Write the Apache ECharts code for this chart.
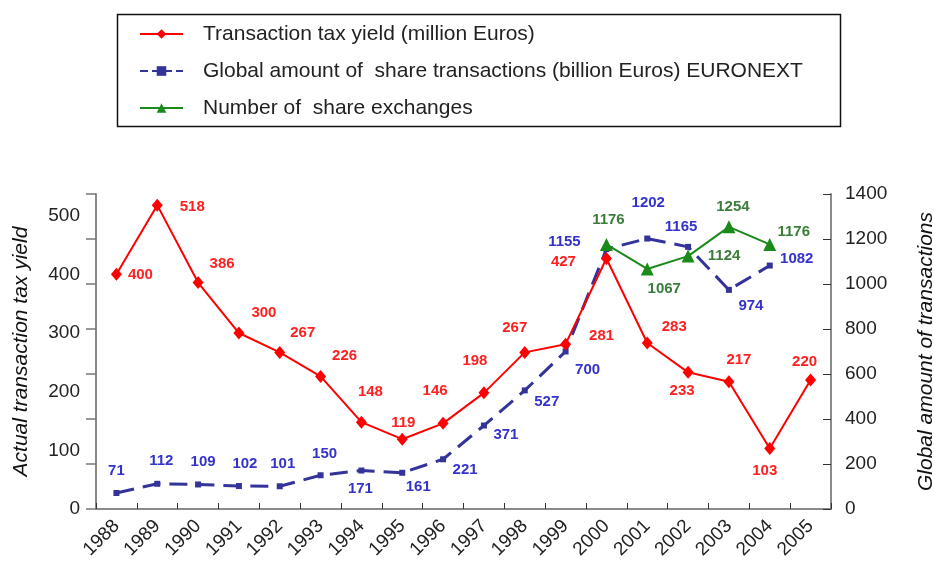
<!DOCTYPE html>
<html>
<head>
<meta charset="utf-8">
<script src="https://cdn.jsdelivr.net/npm/echarts@6/dist/echarts.min.js"></script>
<style>
  html, body { margin: 0; padding: 0; background: #ffffff; }
  #chart { width: 934px; height: 567px; }
</style>
</head>
<body>
<div id="chart"></div>
<script>
// ---- data ----
const years = ['1988','1989','1990','1991','1992','1993','1994','1995','1996','1997','1998','1999','2000','2001','2002','2003','2004','2005'];
const taxYield = [400, 518, 386, 300, 267, 226, 148, 119, 146, 198, 267, 281, 427, 283, 233, 217, 103, 220];
const globalAmount = [71, 112, 109, 102, 101, 150, 171, 161, 221, 371, 527, 700, 1155, 1202, 1165, 974, 1082, null];
const shareExchanges = [null, null, null, null, null, null, null, null, null, null, null, null, 1176, 1067, 1124, 1254, 1176, null];
const leftTicks = [0, 100, 200, 300, 400, 500];
const rightTicks = [0, 200, 400, 600, 800, 1000, 1200, 1400];

const seriesNames = [
  'Transaction tax yield (million Euros)',
  'Global amount of  share transactions (billion Euros) EURONEXT',
  'Number of  share exchanges'
];

// ---- label offsets (style) ----
const redOffsets = [[24,0],[35,2],[24,-19],[25,-20],[23,-20],[24,-21],[9,-30],[1,-16],[-8,-32],[-9,-32],[-10,-25],[36,-8],[-43,3],[27,-16],[-6,19],[10,-22],[-5,22],[-6,-18]];
const blueOffsets = [[0,-22],[4,-23],[5,-23],[6,-22],[3,-22],[4,-21],[-1,18],[16,14],[22,11],[22,9],[22,11],[22,18],[-42,-7],[1,-36],[-7,-20],[22,16],[27,-7],[0,0]];
const greenOffsets = {12:[2,-25],13:[17,20],14:[36,0],15:[4,-20],16:[24,-13]};

function withOffsets(vals, offs) {
  return vals.map((v, i) => {
    if (v == null) return null;
    return { value: v, label: { offset: offs[i] || [0, 0] } };
  });
}

const FONT = "'Liberation Sans', Arial, sans-serif";
const chart = echarts.init(document.getElementById('chart'), null, { renderer: 'canvas' });

const labelBase = { show: true, position: 'inside', fontFamily: FONT, fontSize: 15, fontWeight: 'bold', align: 'center', verticalAlign: 'middle' };

chart.setOption({
  animation: false,
  backgroundColor: '#ffffff',
  graphic: [{
    type: 'rect', left: 115, top: 12, silent: true,
    shape: { width: 723, height: 112 },
    style: { fill: 'none', stroke: '#111', lineWidth: 1.5 }
  }],
  legend: {
    data: [
      { name: seriesNames[0] },
      { name: seriesNames[1], lineStyle: { type: 'dashed' } },
      { name: seriesNames[2] }
    ],
    orient: 'vertical',
    left: 139, top: 23,
    padding: 0,
    itemWidth: 43, itemHeight: 12,
    itemGap: 15,
    textStyle: { fontFamily: FONT, fontSize: 21, color: '#222', padding: [0, 0, 0, 15], lineHeight: 22 }
  },
  grid: { left: 96, right: 103, top: 194, bottom: 58, outerBoundsMode: 'none', containLabel: false },
  xAxis: {
    type: 'category',
    data: years,
    boundaryGap: true,
    axisLine: { lineStyle: { color: '#8a8a8a', width: 2 } },
    axisTick: { show: true, inside: true, length: 6, lineStyle: { color: '#333' } },
    axisLabel: { rotate: 45, fontFamily: FONT, fontSize: 19, color: '#222', margin: 14 },
    splitLine: { show: false }
  },
  yAxis: [
    {
      type: 'value', position: 'left', min: 0, max: 537, interval: 100,
      name: 'Actual transaction tax yield', nameLocation: 'middle', nameGap: 64, nameRotate: 90,
      nameTextStyle: { fontFamily: FONT, fontSize: 21, fontStyle: 'italic', color: '#111' },
      axisLine: { show: true, lineStyle: { color: '#8a8a8a', width: 2 } },
      axisTick: { show: false },
      axisLabel: { fontFamily: FONT, fontSize: 19, color: '#222', margin: 16, showMaxLabel: false,
        formatter: v => leftTicks.indexOf(v) >= 0 ? String(v) : '' },
      splitLine: { show: false }
    },
    {
      type: 'value', position: 'right', min: 0, max: 1400, interval: 200,
      name: 'Global amount of transactions', nameLocation: 'middle', nameGap: 85, nameRotate: 90,
      nameTextStyle: { fontFamily: FONT, fontSize: 21, fontStyle: 'italic', color: '#111' },
      axisLine: { show: true, lineStyle: { color: '#8a8a8a', width: 2 } },
      axisTick: { show: true, inside: true, length: 8, lineStyle: { color: '#333' } },
      axisLabel: { fontFamily: FONT, fontSize: 19, color: '#222', margin: 14,
        formatter: v => rightTicks.indexOf(v) >= 0 ? String(v) : '' },
      splitLine: { show: false }
    },
    {
      type: 'value', position: 'left', min: 0, max: 1400, interval: 200,
      axisLine: { show: false },
      axisTick: { show: true, inside: false, length: 10, lineStyle: { color: '#777', width: 1.5 } },
      axisLabel: { show: false },
      splitLine: { show: false }
    }
  ],
  series: [
    {
      name: seriesNames[0], type: 'line', yAxisIndex: 0,
      data: withOffsets(taxYield, redOffsets),
      symbol: 'diamond', symbolSize: [11, 13],
      lineStyle: { color: '#ff0000', width: 2 },
      itemStyle: { color: '#ff0000' },
      label: Object.assign({}, labelBase, { color: '#ff2020' }),
      z: 3
    },
    {
      name: seriesNames[1], type: 'line', yAxisIndex: 1,
      data: withOffsets(globalAmount, blueOffsets),
      symbol: 'rect', symbolSize: 6,
      lineStyle: { color: '#333399', width: 3, type: [18, 9] },
      itemStyle: { color: '#333399' },
      label: Object.assign({}, labelBase, { color: '#3333cc' }),
      z: 2
    },
    {
      name: seriesNames[2], type: 'line', yAxisIndex: 1,
      data: withOffsets(shareExchanges, greenOffsets),
      symbol: 'triangle', symbolSize: 13,
      lineStyle: { color: '#1a8a1a', width: 2 },
      itemStyle: { color: '#1a8a1a' },
      label: Object.assign({}, labelBase, { color: '#3a7d3a' }),
      z: 4
    }
  ]
});
</script>
</body>
</html>
